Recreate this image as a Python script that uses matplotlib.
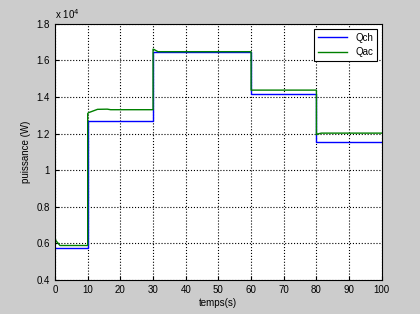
import matplotlib.pyplot as plt
from matplotlib.ticker import FuncFormatter

# données (W)
t_ch = [0, 10, 10, 30, 30, 30, 60, 60, 80, 80, 100]
q_ch = [5750, 5750, 12670, 12670, 14500, 16480, 16480, 14160, 14160, 11540, 11540]

t_ac = [0, 0.3, 1.5, 10, 10, 10.3, 13, 16, 17, 30, 30, 30.3, 31.5,
        60, 60, 80, 80, 80.3, 81.5, 100]
q_ac = [6300, 6150, 5890, 5890, 13100, 13150, 13330, 13340, 13310, 13310,
        16620, 16600, 16480, 16480, 14380, 14380, 11940, 11980, 12030, 12030]

plt.rcParams['font.family'] = ['Liberation Sans', 'DejaVu Sans']

fig = plt.figure(figsize=(4.2, 3.14), dpi=100, facecolor='#cccccc')
ax = fig.add_axes([0.131, 0.108, 0.778, 0.816])

ax.plot(t_ch, q_ch, color='#0000ff', lw=1, label='Qch')
ax.plot(t_ac, q_ac, color='#008000', lw=1, label='Qac')

ax.set_xlim(0, 100)
ax.set_ylim(4000, 18000)
ax.set_xticks(range(0, 101, 10))
ax.set_yticks(range(4000, 18001, 2000))
ax.yaxis.set_major_formatter(FuncFormatter(lambda v, p: '%g' % (v / 1e4)))
ax.tick_params(direction='in', labelsize=7, length=3)
ax.grid(True, color='black', linestyle=':', lw=0.8)

ax.text(0.0, 1.01, r'x 10$^4$', transform=ax.transAxes, fontsize=7, va='bottom')
ax.set_xlabel('temps(s)', fontsize=7, labelpad=2)
ax.set_ylabel('puissance (W)', fontsize=7, labelpad=4)

leg = ax.legend(loc='upper right', fontsize=7, fancybox=False, framealpha=1,
                edgecolor='black', handlelength=3)
leg.get_frame().set_linewidth(0.8)

plt.savefig('out.png', dpi=100, facecolor=fig.get_facecolor())
